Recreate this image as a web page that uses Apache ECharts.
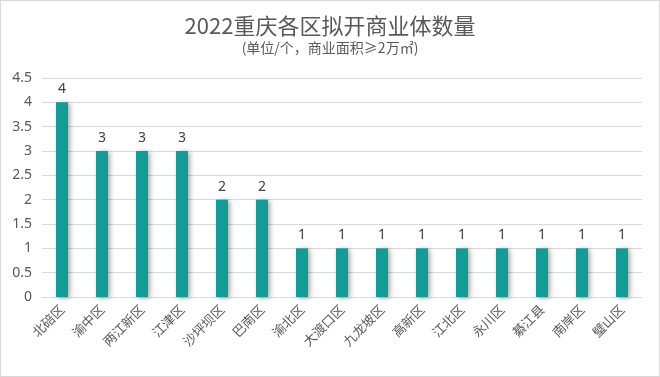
<!DOCTYPE html>
<html>
<head>
<meta charset="utf-8">
<script src="https://cdn.jsdelivr.net/npm/echarts@6/dist/echarts.min.js"></script>
<style>
  html, body { margin: 0; padding: 0; background: #fff; }
  #chart { width: 658px; height: 375px; border: 1px solid #d9d9d9; }
</style>
</head>
<body>
<div id="chart"></div>
<script>
// 各区名称
var districts = ['北碚区', '渝中区', '两江新区', '江津区', '沙坪坝区', '巴南区', '渝北区', '大渡口区',
                 '九龙坡区', '高新区', '江北区', '永川区', '綦江县', '南岸区', '璧山区'];
// 拟开商业体数量（个）
var counts = [4, 3, 3, 3, 2, 2, 1, 1, 1, 1, 1, 1, 1, 1, 1];
// y轴刻度 0 ~ 4.5
var yMin = 0, yMax = 4.5, yStep = 0.5;

var chart = echarts.init(document.getElementById('chart'));
var option = {
    backgroundColor: '#fff',
    title: {
        text: '2022重庆各区拟开商业体数量',
        subtext: '(单位/个，商业面积≥2万㎡)',
        left: 'center',
        top: 9,
        itemGap: 4,
        textStyle: { color: '#595959', fontSize: 22, fontWeight: 'normal', fontFamily: 'Noto Sans CJK SC' },
        subtextStyle: { color: '#595959', fontSize: 14, fontFamily: 'Noto Sans CJK SC' }
    },
    grid: { left: 41, right: 17, top: 77, bottom: 79 },
    xAxis: {
        type: 'category',
        data: districts,
        axisLine: { lineStyle: { color: '#d9d9d9' } },
        axisTick: { show: false },
        axisLabel: { rotate: 45, color: '#595959', fontSize: 13, margin: 10, interval: 0, fontFamily: 'Noto Sans CJK SC' }
    },
    yAxis: {
        type: 'value',
        min: yMin, max: yMax, interval: yStep,
        axisLine: { show: false },
        axisTick: { show: false },
        splitLine: { lineStyle: { color: '#d9d9d9' } },
        axisLabel: { color: '#595959', fontSize: 14, margin: 10, fontFamily: 'Noto Sans' }
    },
    series: [{
        type: 'bar',
        data: counts,
        barWidth: 12,
        itemStyle: {
            color: '#139c97',
            shadowColor: 'rgba(0,0,0,0.35)',
            shadowBlur: 5,
            shadowOffsetX: 2,
            shadowOffsetY: 1
        },
        label: { show: true, position: 'top', color: '#404040', fontSize: 14, distance: 6, fontFamily: 'Noto Sans' }
    }]
};
chart.setOption(option);
</script>
</body>
</html>
